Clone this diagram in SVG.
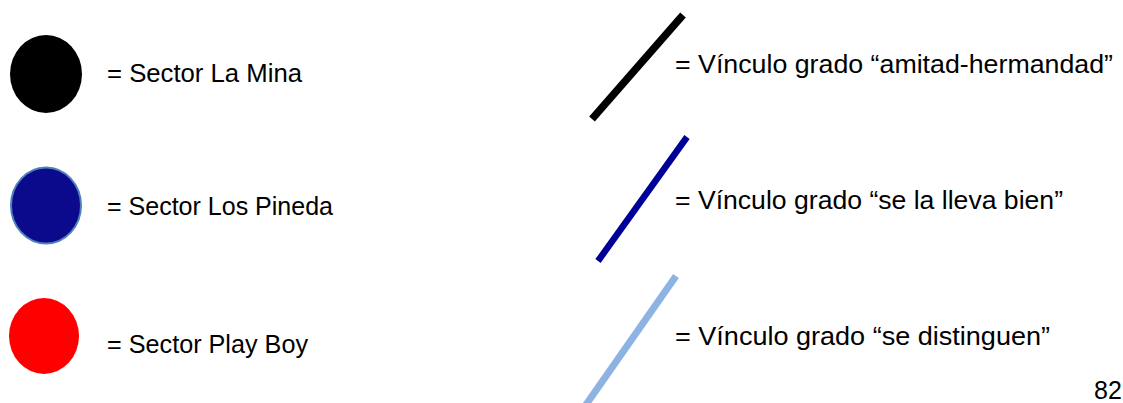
<svg xmlns="http://www.w3.org/2000/svg" width="1123" height="403" viewBox="0 0 1123 403">
<style>
text{font-family:"Liberation Sans",Arial,sans-serif;font-size:25px;fill:#000}
.ln{stroke-linecap:butt;fill:none}
</style>
<rect width="1123" height="403" fill="#fff"/>
<g id="node-la-mina">
<ellipse cx="46" cy="74" rx="36" ry="39" fill="#000"/>
<text x="107" y="82" textLength="195" lengthAdjust="spacingAndGlyphs">= Sector La Mina</text>
</g>
<g id="node-los-pineda">
<ellipse cx="46" cy="205.5" rx="35" ry="38" fill="#0B0A8C" stroke="#4F81BD" stroke-width="2"/>
<text x="107" y="215" textLength="226" lengthAdjust="spacingAndGlyphs">= Sector Los Pineda</text>
</g>
<g id="node-play-boy">
<ellipse cx="44" cy="336" rx="35" ry="38" fill="#FF0000"/>
<text x="107" y="353" textLength="201" lengthAdjust="spacingAndGlyphs">= Sector Play Boy</text>
</g>
<g id="connectors">
<line class="ln" x1="592" y1="119" x2="683" y2="15" stroke="#000" stroke-width="7.5"/>
<line class="ln" x1="598" y1="261" x2="687" y2="137" stroke="#000099" stroke-width="6.5"/>
<line class="ln" x1="583" y1="409" x2="676" y2="276" stroke="#8DB3E2" stroke-width="7"/>
</g>
<g id="legend-links">
<text x="675" y="73" textLength="438" lengthAdjust="spacingAndGlyphs">= Vínculo grado “amitad-hermandad”</text>
<text x="675" y="209" textLength="388" lengthAdjust="spacingAndGlyphs">= Vínculo grado “se la lleva bien”</text>
<text x="675" y="345" textLength="375" lengthAdjust="spacingAndGlyphs">= Vínculo grado “se distinguen”</text>
</g>
<g id="page-number">
<text x="1094" y="399">82</text>
</g>
</svg>
